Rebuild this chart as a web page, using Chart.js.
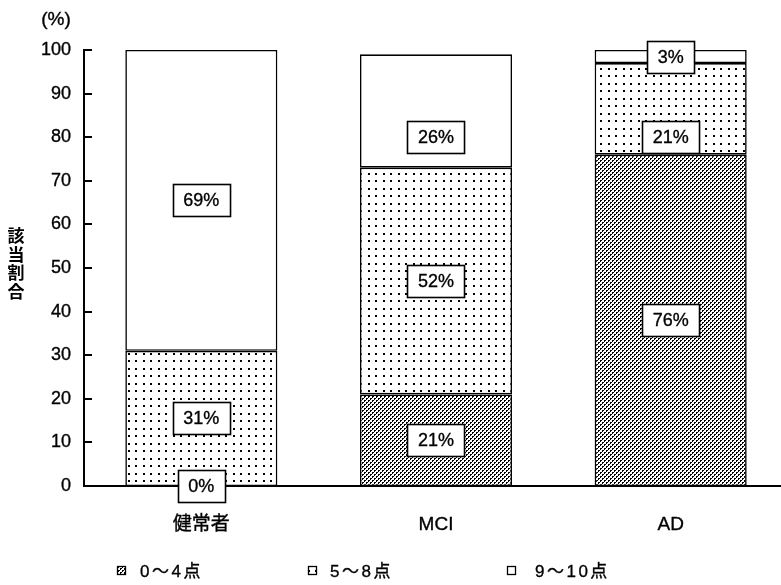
<!DOCTYPE html>
<html>
<head>
<meta charset="utf-8">
<script src="https://cdn.jsdelivr.net/npm/chart.js@4/dist/chart.umd.min.js"></script>
<style>
  html, body { margin: 0; padding: 0; background: #fff; }
  #wrap { width: 781px; height: 585px; position: relative; overflow: hidden; }
</style>
</head>
<body>
<div id="wrap"><canvas id="c" width="790" height="585"></canvas></div>
<script>
// Categories, score bands and shares (%)
const categories = ['健常者', 'MCI', 'AD'];
const bandNames = ['0〜4点', '5〜8点', '9〜10点'];
const score0to4 = [0, 21, 76];
const score5to8 = [31, 52, 21];
const score9to10 = [69, 26, 3];
const yTickValues = [0, 10, 20, 30, 40, 50, 60, 70, 80, 90, 100];

const LATIN = '"Liberation Sans", Arial, "Noto Sans CJK JP", sans-serif';
const canvas = document.getElementById('c');
const ctx = canvas.getContext('2d');

// Fill patterns: dense dot lattice, sparse dot grid, plain white
function makePattern(size, draw) {
  const t = document.createElement('canvas');
  t.width = size; t.height = size;
  const g = t.getContext('2d');
  g.fillStyle = '#fff';
  g.fillRect(0, 0, size, size);
  g.fillStyle = '#000';
  draw(g);
  return ctx.createPattern(t, 'repeat');
}
const densePattern = makePattern(4, g => {
  g.fillRect(0, 0, 2, 1); g.fillRect(0, 1, 1, 1);
  g.fillRect(2, 2, 2, 1); g.fillRect(2, 3, 1, 1);
});
const sparsePattern = makePattern(15, g => {
  g.fillRect(0, 0, 2, 2); g.fillRect(8, 0, 2, 2);
  g.fillRect(0, 8, 2, 2); g.fillRect(8, 8, 2, 2);
});
const fills = [densePattern, sparsePattern, '#fff'];
const seriesValues = [score0to4, score5to8, score9to10];

// Slightly heavier text: fill plus a thin stroke
function heavyText(c, text, x, y) {
  c.fillText(text, x, y);
  c.lineWidth = 0.35;
  c.strokeStyle = '#000';
  c.strokeText(text, x, y);
}

const decorPlugin = {
  id: 'decor',
  afterDatasetsDraw(chart, args, opts) {
    const c = chart.ctx;
    const y = chart.scales.y;
    const area = chart.chartArea;
    c.save();

    // inward tick marks on the value axis
    c.strokeStyle = '#000';
    c.lineWidth = 2;
    yTickValues.forEach(v => {
      const py = Math.round(y.getPixelForValue(v));
      c.beginPath();
      c.moveTo(area.left, py);
      c.lineTo(area.left + 8, py);
      c.stroke();
    });

    // unit label
    c.fillStyle = '#000';
    c.font = '19px ' + LATIN;
    c.textAlign = 'center';
    c.textBaseline = 'middle';
    heavyText(c, '(%)', 56, 20);

    // vertical axis title, one character per line
    c.font = 'bold 17px "Noto Sans CJK JP", sans-serif';
    const title = '該当割合';
    [...title].forEach((ch, i) => c.fillText(ch, 16, 236 + i * 18.5));

    // boxed value labels
    c.font = '18px ' + LATIN;
    chart.data.datasets.forEach((ds, di) => {
      const meta = chart.getDatasetMeta(di);
      meta.data.forEach((el, i) => {
        const key = di + '-' + i;
        let cy = (el.y + el.base) / 2;
        if (opts.anchors && opts.anchors[key] !== undefined) {
          cy = y.getPixelForValue(opts.anchors[key]);
        }
        const text = ds.data[i] + '%';
        const w = c.measureText(text).width + 21;
        const h = 32;
        const bx = Math.round(el.x - w / 2) + 0.5;
        const by = Math.round(cy - h / 2) + 0.5;
        c.fillStyle = '#fff';
        c.fillRect(bx, by, w, h);
        c.strokeStyle = '#000';
        c.lineWidth = 1.6;
        c.strokeRect(bx, by, w, h);
        c.fillStyle = '#000';
        heavyText(c, text, el.x, cy + 1);
      });
    });

    // legend along the bottom
    const legendBoxX = [117, 308, 507];
    const legendTextX = [140, 330, 535];
    const ly = 571;
    c.textAlign = 'left';
    bandNames.forEach((name, i) => {
      const bx = legendBoxX[i] + 0.5, by = ly - 4.5;
      c.fillStyle = fills[i];
      c.fillRect(bx, by, 8, 8);
      c.strokeStyle = '#000';
      c.lineWidth = 1.3;
      c.strokeRect(bx, by, 8, 8);
      c.fillStyle = '#000';
      c.font = '17px ' + LATIN;
      let tx = legendTextX[i];
      // glyph by glyph, with a little extra room between them
      [...name].forEach(ch => {
        heavyText(c, ch, tx, ly + 1);
        tx += c.measureText(ch).width + 2.5;
      });
    });

    c.restore();
  }
};

new Chart(canvas, {
  type: 'bar',
  data: {
    labels: categories,
    datasets: seriesValues.map((vals, i) => ({
      label: bandNames[i],
      data: vals,
      backgroundColor: fills[i],
      borderColor: '#000',
      borderWidth: 1.6,
      borderSkipped: false,
      categoryPercentage: 1,
      barPercentage: 0.648
    }))
  },
  options: {
    responsive: false,
    animation: false,
    events: [],
    layout: { padding: { top: 50, right: 2, bottom: 0, left: 0 } },
    plugins: {
      legend: { display: false },
      tooltip: { enabled: false },
      decor: { anchors: { '2-1': 80, '1-2': 80 } }
    },
    scales: {
      x: {
        stacked: true,
        grid: { display: false, drawTicks: false },
        border: { color: '#000', width: 2 },
        ticks: {
          color: '#000',
          padding: 27,
          textStrokeColor: '#000',
          textStrokeWidth: 0.35,
          font: { family: LATIN, size: 19 }
        },
        afterFit(s) { s.height = 99; }
      },
      y: {
        stacked: true,
        min: 0,
        max: 100,
        afterBuildTicks(s) { s.ticks = yTickValues.map(v => ({ value: v })); },
        grid: { display: false, drawTicks: false },
        border: { color: '#000', width: 2 },
        ticks: {
          color: '#000',
          padding: 13,
          textStrokeColor: '#000',
          textStrokeWidth: 0.35,
          font: { family: LATIN, size: 18 }
        },
        afterFit(s) { s.width = 84; }
      }
    }
  },
  plugins: [decorPlugin]
});
</script>
</body>
</html>
